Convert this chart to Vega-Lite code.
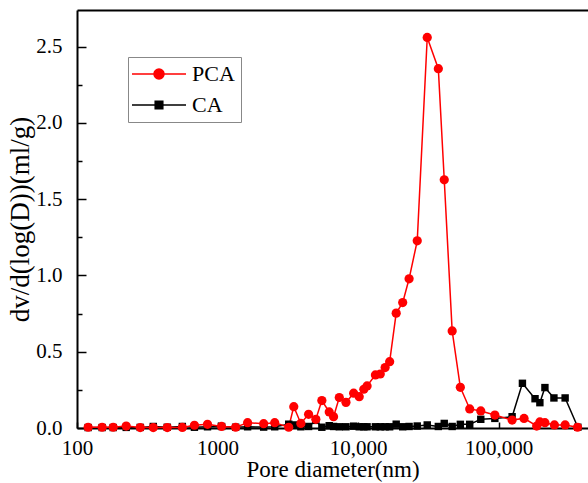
{
  "$schema": "https://vega.github.io/schema/vega-lite/v6.json",
  "width": 511,
  "height": 418,
  "autosize": "none",
  "padding": {"left": 77, "top": 10, "right": 0, "bottom": 55},
  "background": "white",
  "config": {"view": {"stroke": null}, "font": "Liberation Serif"},
  "datasets": {
    "pts": [
      {"s":"CA","d":120,"v":0.003},{"s":"CA","d":151,"v":0.003},{"s":"CA","d":181,"v":0.003},{"s":"CA","d":224,"v":0.004},{"s":"CA","d":282,"v":0.004},{"s":"CA","d":349,"v":0.01},{"s":"CA","d":439,"v":0.005},{"s":"CA","d":562,"v":0.01},{"s":"CA","d":685,"v":0.005},{"s":"CA","d":849,"v":0.008},{"s":"CA","d":1069,"v":0.01},{"s":"CA","d":1346,"v":0.005},{"s":"CA","d":1638,"v":0.008},{"s":"CA","d":2131,"v":0.006},{"s":"CA","d":2554,"v":0.008},{"s":"CA","d":3213,"v":0.025},{"s":"CA","d":3490,"v":0.02},{"s":"CA","d":3920,"v":0.008},{"s":"CA","d":4450,"v":0.01},{"s":"CA","d":5010,"v":0.05},{"s":"CA","d":5530,"v":0.005},{"s":"CA","d":6240,"v":0.015},{"s":"CA","d":6700,"v":0.01},{"s":"CA","d":7360,"v":0.008},{"s":"CA","d":8210,"v":0.008},{"s":"CA","d":9310,"v":0.012},{"s":"CA","d":10200,"v":0.008},{"s":"CA","d":11000,"v":0.008},{"s":"CA","d":11600,"v":0.008},{"s":"CA","d":13300,"v":0.008},{"s":"CA","d":14400,"v":0.008},{"s":"CA","d":15600,"v":0.008},{"s":"CA","d":16800,"v":0.008},{"s":"CA","d":18700,"v":0.025},{"s":"CA","d":20800,"v":0.008},{"s":"CA","d":23100,"v":0.01},{"s":"CA","d":26400,"v":0.013},{"s":"CA","d":31100,"v":0.02},{"s":"CA","d":37300,"v":0.01},{"s":"CA","d":41100,"v":0.03},{"s":"CA","d":46800,"v":0.01},{"s":"CA","d":53500,"v":0.024},{"s":"CA","d":62400,"v":0.024},{"s":"CA","d":74800,"v":0.057},{"s":"CA","d":94200,"v":0.063},{"s":"CA","d":125000,"v":0.074},{"s":"CA","d":148000,"v":0.293},{"s":"CA","d":182000,"v":0.192},{"s":"CA","d":197000,"v":0.166},{"s":"CA","d":214000,"v":0.265},{"s":"CA","d":248000,"v":0.197},{"s":"CA","d":298000,"v":0.197},{"s":"CA","d":367000,"v":0.005},
      {"s":"PCA","d":120,"v":0.005},{"s":"PCA","d":151,"v":0.005},{"s":"PCA","d":181,"v":0.005},{"s":"PCA","d":224,"v":0.013},{"s":"PCA","d":282,"v":0.003},{"s":"PCA","d":349,"v":0.003},{"s":"PCA","d":439,"v":0.003},{"s":"PCA","d":562,"v":0.004},{"s":"PCA","d":685,"v":0.018},{"s":"PCA","d":849,"v":0.024},{"s":"PCA","d":1069,"v":0.01},{"s":"PCA","d":1346,"v":0.005},{"s":"PCA","d":1638,"v":0.035},{"s":"PCA","d":2131,"v":0.028},{"s":"PCA","d":2554,"v":0.035},{"s":"PCA","d":3213,"v":0.005},{"s":"PCA","d":3490,"v":0.14},{"s":"PCA","d":3920,"v":0.03},{"s":"PCA","d":4450,"v":0.09},{"s":"PCA","d":5010,"v":0.057},{"s":"PCA","d":5530,"v":0.18},{"s":"PCA","d":6240,"v":0.105},{"s":"PCA","d":6700,"v":0.074},{"s":"PCA","d":7360,"v":0.2},{"s":"PCA","d":8210,"v":0.168},{"s":"PCA","d":9310,"v":0.228},{"s":"PCA","d":10200,"v":0.205},{"s":"PCA","d":11000,"v":0.254},{"s":"PCA","d":11600,"v":0.276},{"s":"PCA","d":13300,"v":0.348},{"s":"PCA","d":14400,"v":0.354},{"s":"PCA","d":15600,"v":0.396},{"s":"PCA","d":16800,"v":0.435},{"s":"PCA","d":18700,"v":0.753},{"s":"PCA","d":20800,"v":0.822},{"s":"PCA","d":23100,"v":0.978},{"s":"PCA","d":26400,"v":1.227},{"s":"PCA","d":31100,"v":2.56},{"s":"PCA","d":37300,"v":2.355},{"s":"PCA","d":41100,"v":1.627},{"s":"PCA","d":46800,"v":0.636},{"s":"PCA","d":53500,"v":0.267},{"s":"PCA","d":62400,"v":0.125},{"s":"PCA","d":74800,"v":0.112},{"s":"PCA","d":94200,"v":0.085},{"s":"PCA","d":125000,"v":0.052},{"s":"PCA","d":152000,"v":0.063},{"s":"PCA","d":187000,"v":0.013},{"s":"PCA","d":197000,"v":0.04},{"s":"PCA","d":214000,"v":0.035},{"s":"PCA","d":250000,"v":0.02},{"s":"PCA","d":298000,"v":0.02},{"s":"PCA","d":365000,"v":0.005}
    ]
  },
  "data": {"name": "pts"},
  "resolve": {"axis": {"x": "independent", "y": "independent"}},
  "layer": [
    {
      "mark": {"type": "line", "strokeWidth": 1.5},
      "encoding": {
        "x": {"field": "d", "type": "quantitative",
          "scale": {"type": "log", "domain": [100, 433500], "nice": false},
          "axis": {"title": "Pore diameter(nm)", "values": [100, 1000, 10000, 100000],
            "labelExpr": "datum.value >= 10000 ? format(datum.value, ',') : format(datum.value, 'd')",
            "labelFont": "Liberation Serif", "labelFontSize": 21, "labelColor": "black", "labelPadding": 15,
            "labelFlush": false, "labelOverlap": false,
            "titleFont": "Liberation Serif", "titleFontSize": 23, "titleFontWeight": "normal", "titleColor": "black", "titlePadding": 0,
            "domainColor": "black", "domainWidth": 2, "ticks": true, "tickColor": "black", "tickSize": -6, "tickWidth": 1.5, "grid": false}},
        "y": {"field": "v", "type": "quantitative",
          "scale": {"domain": [0, 2.74], "nice": false, "zero": true},
          "axis": {"title": "dv/d(log(D))(ml/g)", "values": [0, 0.25, 0.5, 0.75, 1, 1.25, 1.5, 1.75, 2, 2.25, 2.5],
            "labelExpr": "(round(datum.value * 100) % 50 == 0) ? format(datum.value, '.1f') : ''",
            "labelFont": "Liberation Serif", "labelFontSize": 21, "labelColor": "black", "labelPadding": 24,
            "labelFlush": false, "labelOverlap": false,
            "titleFont": "Liberation Serif", "titleFontSize": 27, "titleFontWeight": "normal", "titleColor": "black", "titlePadding": 1,
            "domainColor": "black", "domainWidth": 2, "tickColor": "black", "tickWidth": 1.5,
            "tickSize": {"condition": {"test": "round(datum.value * 100) % 50 == 0", "value": -9}, "value": -5},
            "grid": false}},
        "color": {"field": "s", "type": "nominal",
          "scale": {"domain": ["PCA", "CA"], "range": ["#ff0000", "#000000"]},
          "legend": {"title": null, "orient": "none", "legendX": 51, "legendY": 47,
            "fillColor": "white", "strokeColor": "#888888", "padding": 6, "rowPadding": 9,
            "labelFont": "Liberation Serif", "labelFontSize": 22, "labelColor": "black",
            "symbolSize": 400, "symbolOffset": 14, "labelOffset": 22,
            "encode": {"symbols": {"update": {
              "shape": {"signal": "datum.value === 'PCA' ? 'M-2.7,0H2.7M-0.5,0a0.5,0.5 0 1,0 1,0a0.5,0.5 0 1,0 -1,0Z' : 'M-2.7,0H2.7M-0.38,-0.38H0.38V0.38H-0.38Z'"},
              "fill": {"signal": "datum.value === 'PCA' ? '#ff0000' : '#000000'"},
              "stroke": {"signal": "datum.value === 'PCA' ? '#ff0000' : '#000000'"},
              "strokeWidth": {"value": 1.5},
              "opacity": {"value": 1}, "fillOpacity": {"value": 1}, "strokeOpacity": {"value": 1}}}}}}
      }
    },
    {
      "mark": {"type": "point", "filled": true, "opacity": 1},
      "encoding": {
        "x": {"field": "d", "type": "quantitative",
          "scale": {"type": "log", "domain": [100, 433500], "nice": false},
          "axis": {"orient": "top", "title": null, "labels": false, "ticks": false, "domainColor": "black", "domainWidth": 2, "grid": false}},
        "y": {"field": "v", "type": "quantitative",
          "scale": {"domain": [0, 2.74], "nice": false},
          "axis": null},
        "color": {"condition": {"test": "datum.s === 'PCA'", "value": "#ff0000"}, "value": "#000000"},
        "shape": {"condition": {"test": "datum.s === 'PCA'", "value": "circle"}, "value": "square"},
        "size": {"condition": {"test": "datum.s === 'PCA'", "value": 85}, "value": 55}
      }
    }
  ]
}
